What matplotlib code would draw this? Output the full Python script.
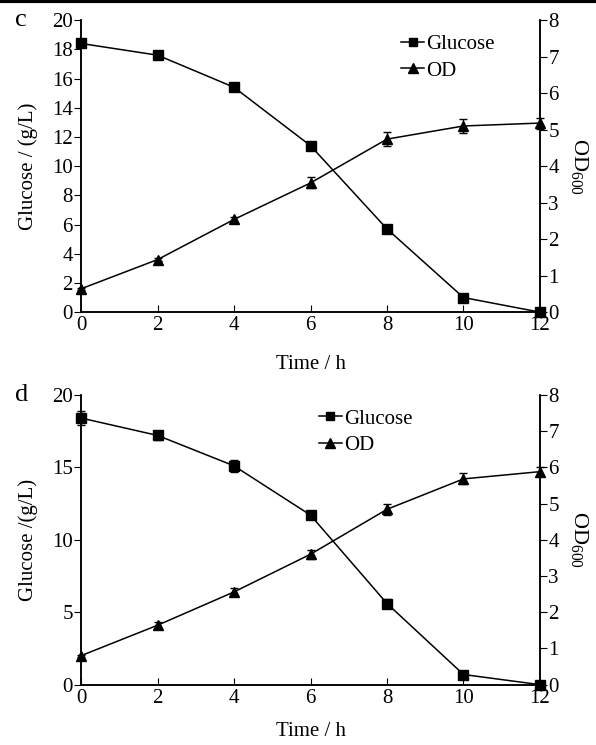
import matplotlib
matplotlib.use('Agg')
import matplotlib.pyplot as plt
from matplotlib.lines import Line2D

plt.rcParams['font.family'] = ['Liberation Serif', 'DejaVu Serif']
plt.rcParams['mathtext.fontset'] = 'custom'
plt.rcParams['mathtext.rm'] = 'Liberation Serif'

TIME = [0, 2, 4, 6, 8, 10, 12]

# panel c
C_GLUCOSE = [18.4, 17.6, 15.4, 11.4, 5.7, 1.0, 0.0]
C_GLUCOSE_ERR = [0.15, 0.1, 0.1, 0.1, 0.15, 0.1, 0.05]
C_OD = [0.64, 1.44, 2.54, 3.54, 4.74, 5.1, 5.18]
C_OD_ERR = [0.03, 0.04, 0.06, 0.15, 0.2, 0.2, 0.15]

# panel d
D_GLUCOSE = [18.4, 17.2, 15.1, 11.7, 5.6, 0.7, 0.0]
D_GLUCOSE_ERR = [0.5, 0.3, 0.4, 0.2, 0.3, 0.1, 0.05]
D_OD = [0.8, 1.64, 2.56, 3.6, 4.84, 5.68, 5.88]
D_OD_ERR = [0.03, 0.1, 0.12, 0.12, 0.15, 0.15, 0.12]

FS = 15

fig = plt.figure(figsize=(5.96, 7.45), dpi=100)
fig.add_artist(Line2D([0, 1], [0.998, 0.998], color='black', lw=3, transform=fig.transFigure))


def panel(rect, letter, glu, glu_err, od, od_err, yticks, ylabel, leg_pos, xpad):
    ax = fig.add_axes(rect)
    ax2 = ax.twinx()
    ax.errorbar(TIME, glu, yerr=glu_err, color='black', marker='s', ms=6.5, lw=1.1,
                capsize=3, elinewidth=1, clip_on=False, zorder=3)
    ax2.errorbar(TIME, od, yerr=od_err, color='black', marker='^', ms=7.5, lw=1.1,
                 capsize=3, elinewidth=1, clip_on=False, zorder=3)
    ax.set_xlim(0, 12)
    ax.set_ylim(0, 20)
    ax2.set_ylim(0, 8)
    ax.set_xticks(TIME)
    ax.set_yticks(yticks)
    ax2.set_yticks(range(0, 9))
    for a in (ax, ax2):
        a.spines['top'].set_visible(False)
        for s in a.spines.values():
            s.set_linewidth(1.1)
    ax.tick_params(axis='x', direction='in', length=5, labelsize=FS, pad=3)
    ax.tick_params(axis='y', direction='out', length=5, labelsize=FS, pad=1)
    ax2.tick_params(axis='y', direction='out', length=5, labelsize=FS, pad=1)
    ax.set_xlabel('Time / h', fontsize=FS, labelpad=xpad)
    ax.set_ylabel(ylabel, fontsize=FS, labelpad=10)
    ax2.set_ylabel(r'OD$_{600}$', fontsize=FS + 1, rotation=270, labelpad=22)
    ax.text(-0.145, 1.0, letter, transform=ax.transAxes, fontsize=19, va='center')
    h1 = Line2D([], [], color='black', marker='s', ms=6, lw=1.1)
    h2 = Line2D([], [], color='black', marker='^', ms=7, lw=1.1)
    ax.legend([h1, h2], ['Glucose', 'OD'], loc='upper left', bbox_to_anchor=leg_pos,
              frameon=False, fontsize=FS, handlelength=1.1, handletextpad=0.1,
              borderaxespad=0, labelspacing=0.35)
    return ax


panel([0.136, 0.581, 0.770, 0.392], 'c', C_GLUCOSE, C_GLUCOSE_ERR, C_OD, C_OD_ERR,
      range(0, 21, 2), 'Glucose / (g/L)', (0.68, 0.98), 14)
panel([0.136, 0.081, 0.770, 0.389], 'd', D_GLUCOSE, D_GLUCOSE_ERR, D_OD, D_OD_ERR,
      range(0, 21, 5), 'Glucose /(g/L)', (0.50, 0.98), 10)

fig.savefig('out.png', dpi=100)
